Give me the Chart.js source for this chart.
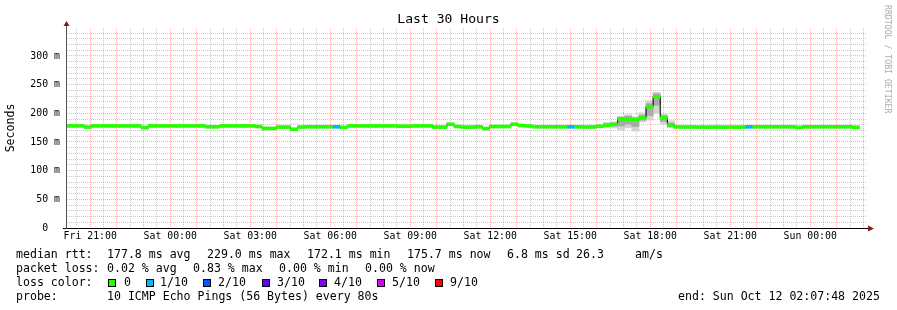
<!DOCTYPE html>
<html>
<head>
<meta charset="utf-8">
<script src="https://cdn.jsdelivr.net/npm/chart.js@4.4.1/dist/chart.umd.min.js"></script>
<style>
body { margin: 0; background: #fff; }
#wrap { position: relative; width: 897px; height: 310px; font-family: "DejaVu Sans Mono", monospace; color: #000; overflow: hidden; }
#wrap canvas { position: absolute; left: 0; top: 0; }
.t { position: absolute; white-space: pre; font-size: 11.57px; line-height: 14px; }
.sq { position: absolute; top: 279px; width: 6px; height: 6px; border: 1px solid #000; }
#title { position: absolute; left: 0; top: 11px; width: 897px; text-align: center; font-size: 13.1px; line-height: 16px; white-space: pre; }
#mark { position: absolute; left: 892px; top: 5px; transform-origin: 0 0; transform: rotate(90deg); font-size: 8.2px; line-height: 9px; color: #ababab; white-space: pre; }
</style>
</head>
<body>
<div id="wrap">
  <canvas id="chart" width="897" height="310"></canvas>
  <div id="title">Last 30 Hours</div>
  <div id="mark">RRDTOOL / TOBI OETIKER</div>

  <div class="t" style="left:16px;top:247px">median rtt:</div>
  <div class="t" style="left:107px;top:247px">177.8 ms avg</div>
  <div class="t" style="left:207px;top:247px">229.0 ms max</div>
  <div class="t" style="left:307px;top:247px">172.1 ms min</div>
  <div class="t" style="left:407px;top:247px">175.7 ms now</div>
  <div class="t" style="left:507px;top:247px">6.8 ms sd</div>
  <div class="t" style="left:576px;top:247px">26.3</div>
  <div class="t" style="left:635px;top:247px">am/s</div>

  <div class="t" style="left:16px;top:261px">packet loss:</div>
  <div class="t" style="left:107px;top:261px">0.02 % avg</div>
  <div class="t" style="left:193px;top:261px">0.83 % max</div>
  <div class="t" style="left:279px;top:261px">0.00 % min</div>
  <div class="t" style="left:365px;top:261px">0.00 % now</div>

  <div class="t" style="left:16px;top:275px">loss color:</div>
  <div id="lossLegend"></div>

  <div class="t" style="left:16px;top:289px">probe:</div>
  <div class="t" style="left:107px;top:289px">10 ICMP Echo Pings (56 Bytes) every 80s</div>
  <div class="t" style="left:678px;top:289px">end: Sun Oct 12 02:07:48 2025</div>
</div>

<script>
// graph runs Fri 20:07:48 -> Sun 02:07:48, x values are minutes after the start
var graphMinutes = 1800;
var stepMinutes = 16;
var firstBucketMin = -1.2;

// median rtt per 16 minute bucket (ms)
var median = [
  178, 178, 178, 176, 178, 178, 178, 178, 178, 178, 178, 175, 178, 178, 178, 178,
  178, 178, 178, 178, 176.5, 176.5, 178, 178, 178, 178, 178, 177, 173.6, 173.6, 176, 176,
  172.1, 176, 176.5, 176.5, 176.5, 176.5, 176.5, 175.5, 178, 178, 178, 178, 178, 178, 178, 177.5,
  177.5, 178, 178, 178, 176, 176, 181, 177, 176, 176, 176.5, 173.5, 177, 177, 177, 181,
  178.5, 178, 176.5, 176.5, 176.5, 176.5, 176.5, 176.5, 176.5, 176.2, 176.2, 177.4, 179.1, 180.9, 190.1, 190.1,
  188.9, 191.9, 211.6, 229.0, 191.9, 179.7, 176.2, 176.2, 176.2, 176, 176, 176, 176, 176, 176, 176,
  176.5, 176.5, 176.5, 176.5, 176.5, 176.5, 176.5, 175.5, 176.5, 176.5, 176.5, 176.5, 176.5, 176.5, 176.5, 175.7
];

// smoke: lowest and highest ping of each bucket (ms)
var smokeLo = [
  176.5, 176.4, 176.6, 174.2, 176.5, 176.6, 176.4, 176.5, 176.6, 176.5, 176.4, 173.0, 176.5, 176.6, 176.5, 176.4,
  176.5, 176.6, 176.4, 176.5, 175.0, 174.8, 176.5, 176.6, 176.4, 176.5, 176.6, 175.3, 171.8, 172.0, 174.4, 174.5,
  170.6, 174.5, 175.0, 174.8, 175.0, 174.9, 174.6, 173.8, 176.5, 176.4, 176.6, 176.5, 176.4, 176.5, 176.6, 176.0,
  175.9, 176.5, 176.4, 176.6, 174.4, 174.5, 178.8, 175.4, 174.5, 174.4, 174.8, 171.8, 175.5, 175.4, 175.6, 179.0,
  176.8, 176.5, 175.0, 174.9, 175.0, 174.8, 174.9, 174.6, 174.9, 174.6, 174.7, 175.0, 176.0, 174.4, 171.0, 175.0,
  169.0, 185.0, 188.0, 200.0, 181.0, 175.0, 174.6, 174.5, 174.7, 174.4, 174.5, 174.3, 174.4, 174.5, 174.4, 174.3,
  174.7, 174.9, 175.0, 174.8, 174.9, 175.0, 174.8, 173.9, 174.9, 175.0, 174.8, 174.9, 175.0, 174.8, 174.9, 174.1
];
var smokeHi = [
  179.6, 179.8, 179.7, 178.6, 179.8, 179.6, 179.7, 179.8, 179.6, 179.7, 179.8, 178.0, 179.7, 179.6, 179.8, 179.7,
  179.6, 179.8, 179.7, 179.6, 178.4, 178.3, 179.7, 179.8, 179.6, 179.7, 179.8, 178.9, 176.0, 175.8, 177.9, 178.0,
  174.6, 178.0, 178.3, 178.1, 178.2, 178.4, 178.6, 177.4, 179.7, 179.6, 179.8, 179.7, 179.6, 179.8, 179.7, 179.2,
  179.3, 179.7, 179.6, 179.8, 177.9, 178.0, 183.4, 178.9, 177.8, 177.9, 178.3, 175.9, 178.7, 178.8, 178.6, 183.0,
  180.3, 179.7, 178.2, 178.1, 178.3, 178.2, 178.1, 178.4, 178.2, 177.9, 178.0, 180.0, 184.0, 185.0, 195.0, 197.6,
  194.0, 201.0, 222.0, 237.0, 199.0, 187.0, 178.0, 177.9, 178.1, 177.8, 177.7, 177.9, 177.8, 177.7, 177.9, 177.8,
  178.3, 178.2, 178.1, 178.3, 178.2, 178.1, 178.3, 177.3, 178.2, 178.1, 178.3, 178.2, 178.1, 178.3, 178.2, 177.5
];

// darker inner smoke around the evening spike, buckets 75..85
var coreStart = 75;
var coreLo = [176.2, 177.2, 177.5, 178, 181, 177, 188, 196, 214, 186, 177];
var coreHi = [178.6, 181.5, 183.0, 193, 195, 192, 197, 217, 234, 196, 183];

// buckets that lost pings (count out of 10)
var lossIndex = [38, 71, 96];
var lossCount = [1, 1, 1];

var lossLabels = ["0", "1/10", "2/10", "3/10", "4/10", "5/10", "9/10"];
var lossLevels = [0, 1, 2, 3, 4, 5, 9];
var lossColors = ["#26ff00", "#00b8ff", "#0059ff", "#5e00ff", "#7e00ff", "#dd00ff", "#ff0000"];

var xTickLabels = ["Fri 21:00", "Sat 00:00", "Sat 03:00", "Sat 06:00", "Sat 09:00", "Sat 12:00", "Sat 15:00", "Sat 18:00", "Sat 21:00", "Sun 00:00"];
var firstHalfHourMin = 22.2; // Fri 20:30
var yTickValues = [0, 50, 100, 150, 200, 250, 300];
var yTickLabels = ["0  ", "50 m", "100 m", "150 m", "200 m", "250 m", "300 m"];

var majorGrid = "rgba(255, 0, 0, 0.32)";
var minorGrid = "rgba(0, 0, 0, 0.2)";
var monoFont = "DejaVu Sans Mono";

// legend squares
var lossLegend = document.querySelector("#lossLegend");
var sqLeft = [108, 146, 203, 262, 319, 377, 435];
var labLeft = [124, 160, 218, 277, 334, 392, 450];
for (let i = 0; i < lossLabels.length; i++) {
    var sq = document.createElement("div");
    sq.className = "sq";
    sq.style.left = sqLeft[i] + "px";
    sq.style.background = lossColors[i];
    lossLegend.append(sq);
    var lab = document.createElement("div");
    lab.className = "t";
    lab.style.left = labLeft[i] + "px";
    lab.style.top = "275px";
    lab.textContent = lossLabels[i];
    lossLegend.append(lab);
}

function bucketX(i) {
    return firstBucketMin + stepMinutes * i;
}

function colorForBucket(i) {
    var k = lossIndex.indexOf(i);
    var lost = k < 0 ? 0 : lossCount[k];
    return lossColors[lossLevels.indexOf(lost)];
}

var medianBars = [], medianLine = [], smokeBars = [], coreBars = [], barColors = [];
for (let i = 0; i < median.length; i++) {
    medianBars.push({ x: bucketX(i), y: [median[i] - 2.6, median[i] + 2.6] });
    medianLine.push({ x: bucketX(i), y: median[i] });
    smokeBars.push({ x: bucketX(i), y: [smokeLo[i], smokeHi[i]] });
    barColors.push(colorForBucket(i));
}
for (let i = 0; i < coreLo.length; i++) {
    coreBars.push({ x: bucketX(coreStart + i), y: [coreLo[i], coreHi[i]] });
}

var barStyle = { grouped: false, barPercentage: 1, categoryPercentage: 1, borderWidth: 0 };

// axis lines with the little rrdtool arrows
var axisArrows = {
    id: "axisArrows",
    afterDatasetsDraw: function (chart) {
        var ctx = chart.ctx;
        var a = chart.chartArea;
        ctx.save();
        ctx.lineWidth = 1;
        ctx.strokeStyle = "#000";
        ctx.beginPath();
        ctx.moveTo(a.left - 4, a.bottom + 0.5);
        ctx.lineTo(a.right + 2, a.bottom + 0.5);
        ctx.stroke();
        ctx.strokeStyle = "#555";
        ctx.beginPath();
        ctx.moveTo(a.left - 0.5, a.bottom + 1);
        ctx.lineTo(a.left - 0.5, a.top - 4);
        ctx.stroke();
        ctx.fillStyle = "#8b1a1a";
        ctx.beginPath();
        ctx.moveTo(a.left - 0.5, a.top - 7);
        ctx.lineTo(a.left - 3.5, a.top - 2);
        ctx.lineTo(a.left + 2.5, a.top - 2);
        ctx.closePath();
        ctx.fill();
        ctx.beginPath();
        ctx.moveTo(a.right + 7, a.bottom + 0.5);
        ctx.lineTo(a.right + 1, a.bottom - 2.5);
        ctx.lineTo(a.right + 1, a.bottom + 3.5);
        ctx.closePath();
        ctx.fill();
        ctx.restore();
    }
};

new Chart(document.querySelector("#chart"), {
    type: "bar",
    data: {
        datasets: [
            Object.assign({ type: "bar", label: "median", data: medianBars, backgroundColor: barColors, order: 0 }, barStyle),
            { type: "line", label: "median line", data: medianLine, stepped: "middle", borderColor: "#000", borderWidth: 1, pointRadius: 0, fill: false, order: 1 },
            Object.assign({ type: "bar", label: "core smoke", data: coreBars, backgroundColor: "#aaaaaa", order: 2 }, barStyle),
            Object.assign({ type: "bar", label: "smoke", data: smokeBars, backgroundColor: "#d3d3d3", order: 3 }, barStyle)
        ]
    },
    options: {
        responsive: false,
        animation: false,
        devicePixelRatio: 1,
        layout: { padding: { left: 0, right: 30, top: 28, bottom: 62 } },
        plugins: { legend: { display: false }, tooltip: { enabled: false }, title: { display: false } },
        scales: {
            x: {
                type: "linear",
                min: 0,
                max: graphMinutes,
                offset: false,
                grid: {
                    offset: false,
                    drawTicks: false,
                    color: function (c) { return c.index % 2 === 1 ? majorGrid : minorGrid; }
                },
                border: { display: false, dash: [1, 1] },
                afterBuildTicks: function (scale) {
                    var t = [];
                    for (var k = 0; firstHalfHourMin + 30 * k <= graphMinutes; k++) {
                        t.push({ value: firstHalfHourMin + 30 * k });
                    }
                    scale.ticks = t;
                },
                afterFit: function (scale) { scale.height = 20; },
                ticks: {
                    autoSkip: false,
                    maxRotation: 0,
                    padding: 3,
                    color: "#000",
                    font: { family: monoFont, size: 9.85 },
                    callback: function (v, i) {
                        return (i - 1) % 6 === 0 ? xTickLabels[(i - 1) / 6] : "";
                    }
                }
            },
            y: {
                min: 0,
                max: 348.8,
                grid: {
                    drawTicks: false,
                    color: function (c) { return c.tick && c.tick.value % 50 === 0 ? majorGrid : minorGrid; }
                },
                border: { display: false, dash: [1, 1] },
                afterBuildTicks: function (scale) {
                    var t = [];
                    for (var v = 0; v <= 340; v += 10) t.push({ value: v });
                    scale.ticks = t;
                },
                afterFit: function (scale) { scale.width = 67; },
                ticks: {
                    autoSkip: false,
                    padding: 7,
                    color: "#000",
                    font: { family: monoFont, size: 9.85 },
                    callback: function (v) {
                        var k = yTickValues.indexOf(v);
                        return k < 0 ? "" : yTickLabels[k];
                    }
                },
                title: {
                    display: true,
                    text: "Seconds",
                    color: "#000",
                    font: { family: monoFont, size: 11.57 },
                    padding: { top: 4, bottom: 0 }
                }
            }
        }
    },
    plugins: [axisArrows]
});
</script>
</body>
</html>
